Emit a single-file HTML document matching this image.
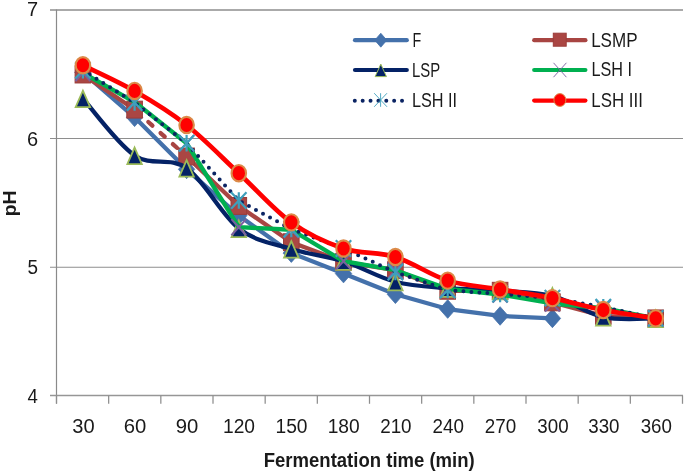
<!DOCTYPE html>
<html><head><meta charset="utf-8"><style>
html,body{margin:0;padding:0;background:#fff;width:685px;height:474px;overflow:hidden}
svg{display:block;will-change:transform}
text{font-family:"Liberation Sans",sans-serif}
</style></head><body>
<svg width="685" height="474" viewBox="0 0 685 474">
<line x1="50" y1="10.00" x2="683" y2="10.00" stroke="#8e8e8e" stroke-width="1.5"/>
<line x1="50" y1="138.50" x2="683" y2="138.50" stroke="#8e8e8e" stroke-width="1.15"/>
<line x1="50" y1="267.25" x2="683" y2="267.25" stroke="#8e8e8e" stroke-width="1.15"/>
<line x1="56.5" y1="9.50" x2="56.5" y2="403.50" stroke="#8a8a8a" stroke-width="1.2"/>
<line x1="50" y1="395.55" x2="683.00" y2="395.55" stroke="#969696" stroke-width="1.5"/>
<line x1="56.50" y1="395.50" x2="56.50" y2="403.80" stroke="#8e8e8e" stroke-width="1.25"/>
<line x1="108.67" y1="395.50" x2="108.67" y2="403.80" stroke="#8e8e8e" stroke-width="1.25"/>
<line x1="160.83" y1="395.50" x2="160.83" y2="403.80" stroke="#8e8e8e" stroke-width="1.25"/>
<line x1="213.00" y1="395.50" x2="213.00" y2="403.80" stroke="#8e8e8e" stroke-width="1.25"/>
<line x1="265.17" y1="395.50" x2="265.17" y2="403.80" stroke="#8e8e8e" stroke-width="1.25"/>
<line x1="317.33" y1="395.50" x2="317.33" y2="403.80" stroke="#8e8e8e" stroke-width="1.25"/>
<line x1="369.50" y1="395.50" x2="369.50" y2="403.80" stroke="#8e8e8e" stroke-width="1.25"/>
<line x1="421.67" y1="395.50" x2="421.67" y2="403.80" stroke="#8e8e8e" stroke-width="1.25"/>
<line x1="473.83" y1="395.50" x2="473.83" y2="403.80" stroke="#8e8e8e" stroke-width="1.25"/>
<line x1="526.00" y1="395.50" x2="526.00" y2="403.80" stroke="#8e8e8e" stroke-width="1.25"/>
<line x1="578.17" y1="395.50" x2="578.17" y2="403.80" stroke="#8e8e8e" stroke-width="1.25"/>
<line x1="630.33" y1="395.50" x2="630.33" y2="403.80" stroke="#8e8e8e" stroke-width="1.25"/>
<line x1="682.50" y1="395.50" x2="682.50" y2="403.80" stroke="#8e8e8e" stroke-width="1.25"/>
<path d="M82.90,72.32 L134.60,117.30 L186.60,169.34 L238.80,215.60 L291.30,253.12 L343.50,273.55 L395.40,294.24 L447.70,309.02 L500.10,315.96 L552.40,318.40" fill="none" stroke="#4471ab" stroke-width="4.3" stroke-linecap="round" stroke-linejoin="round"/>
<path d="M82.90,63.02 L91.10,72.32 L82.90,81.62 L74.70,72.32Z" fill="#4471ab" stroke="#4471ab" stroke-width="0.8"/>
<path d="M134.60,108.00 L142.80,117.30 L134.60,126.60 L126.40,117.30Z" fill="#4471ab" stroke="#4471ab" stroke-width="0.8"/>
<path d="M186.60,160.04 L194.80,169.34 L186.60,178.64 L178.40,169.34Z" fill="#4471ab" stroke="#4471ab" stroke-width="0.8"/>
<path d="M238.80,206.30 L247.00,215.60 L238.80,224.90 L230.60,215.60Z" fill="#4471ab" stroke="#4471ab" stroke-width="0.8"/>
<path d="M291.30,243.82 L299.50,253.12 L291.30,262.42 L283.10,253.12Z" fill="#4471ab" stroke="#4471ab" stroke-width="0.8"/>
<path d="M343.50,264.25 L351.70,273.55 L343.50,282.85 L335.30,273.55Z" fill="#4471ab" stroke="#4471ab" stroke-width="0.8"/>
<path d="M395.40,284.94 L403.60,294.24 L395.40,303.54 L387.20,294.24Z" fill="#4471ab" stroke="#4471ab" stroke-width="0.8"/>
<path d="M447.70,299.72 L455.90,309.02 L447.70,318.32 L439.50,309.02Z" fill="#4471ab" stroke="#4471ab" stroke-width="0.8"/>
<path d="M500.10,306.66 L508.30,315.96 L500.10,325.26 L491.90,315.96Z" fill="#4471ab" stroke="#4471ab" stroke-width="0.8"/>
<path d="M552.40,309.10 L560.60,318.40 L552.40,327.70 L544.20,318.40Z" fill="#4471ab" stroke="#4471ab" stroke-width="0.8"/>
<path d="M82.90,74.51 L134.60,109.59" fill="none" stroke="#a84542" stroke-width="4.3" stroke-linecap="round" stroke-linejoin="round"/>
<path d="M134.60,109.59 L186.60,156.49" fill="none" stroke="#a84542" stroke-width="4.3" stroke-linecap="round" stroke-linejoin="round" stroke-dasharray="5.5 11" stroke-dashoffset="-2"/>
<path d="M186.60,156.49 L238.80,205.96 L291.30,242.20 L343.50,261.86 L395.40,270.21 L447.70,290.77 L500.10,290.77 L552.40,302.34 L603.30,315.83 L655.70,318.40" fill="none" stroke="#a84542" stroke-width="4.3" stroke-linecap="round" stroke-linejoin="round"/>
<rect x="75.10" y="66.06" width="15.60" height="16.90" fill="#aa4643" stroke="#9c3c39" stroke-width="1"/>
<rect x="126.80" y="101.14" width="15.60" height="16.90" fill="#aa4643" stroke="#9c3c39" stroke-width="1"/>
<rect x="178.80" y="148.04" width="15.60" height="16.90" fill="#aa4643" stroke="#9c3c39" stroke-width="1"/>
<rect x="231.00" y="197.51" width="15.60" height="16.90" fill="#aa4643" stroke="#9c3c39" stroke-width="1"/>
<rect x="283.50" y="233.75" width="15.60" height="16.90" fill="#aa4643" stroke="#9c3c39" stroke-width="1"/>
<rect x="335.70" y="253.41" width="15.60" height="16.90" fill="#aa4643" stroke="#9c3c39" stroke-width="1"/>
<rect x="387.60" y="261.76" width="15.60" height="16.90" fill="#aa4643" stroke="#9c3c39" stroke-width="1"/>
<rect x="439.90" y="282.32" width="15.60" height="16.90" fill="#aa4643" stroke="#9c3c39" stroke-width="1"/>
<rect x="492.30" y="282.32" width="15.60" height="16.90" fill="#aa4643" stroke="#9c3c39" stroke-width="1"/>
<rect x="544.60" y="293.89" width="15.60" height="16.90" fill="#aa4643" stroke="#9c3c39" stroke-width="1"/>
<rect x="595.50" y="307.38" width="15.60" height="16.90" fill="#aa4643" stroke="#9c3c39" stroke-width="1"/>
<rect x="647.90" y="309.95" width="15.60" height="16.90" fill="#aa4643" stroke="#9c3c39" stroke-width="1"/>
<path d="M82.90,98.54 C91.52,108.02 117.32,143.88 134.60,155.46 C151.88,167.05 169.23,155.89 186.60,168.06 C203.97,180.22 221.35,214.96 238.80,228.45 C256.25,241.94 273.85,243.55 291.30,249.01 C308.75,254.47 326.15,255.76 343.50,261.22 C360.85,266.68 378.03,277.28 395.40,281.78 C412.77,286.28 430.25,286.70 447.70,288.20 C465.15,289.70 482.65,289.49 500.10,290.77 C517.55,292.06 535.20,291.52 552.40,295.91 C569.60,300.30 586.08,313.37 603.30,317.11 C620.52,320.86 646.97,318.19 655.70,318.40" fill="none" stroke="#042266" stroke-width="4.3" stroke-linecap="round" stroke-linejoin="round"/>
<path d="M82.90,90.66 L90.14,107.14 L75.66,107.14Z" fill="#042266" stroke="#9bbb59" stroke-width="1.8" stroke-linejoin="miter"/>
<path d="M134.60,147.58 L141.84,164.06 L127.36,164.06Z" fill="#042266" stroke="#9bbb59" stroke-width="1.8" stroke-linejoin="miter"/>
<path d="M186.60,160.18 L193.84,176.66 L179.36,176.66Z" fill="#042266" stroke="#9bbb59" stroke-width="1.8" stroke-linejoin="miter"/>
<path d="M238.80,220.57 L246.04,237.05 L231.56,237.05Z" fill="#042266" stroke="#9bbb59" stroke-width="1.8" stroke-linejoin="miter"/>
<path d="M291.30,241.13 L298.54,257.61 L284.06,257.61Z" fill="#042266" stroke="#9bbb59" stroke-width="1.8" stroke-linejoin="miter"/>
<path d="M343.50,253.34 L350.74,269.82 L336.26,269.82Z" fill="#042266" stroke="#9bbb59" stroke-width="1.8" stroke-linejoin="miter"/>
<path d="M395.40,273.90 L402.64,290.38 L388.16,290.38Z" fill="#042266" stroke="#9bbb59" stroke-width="1.8" stroke-linejoin="miter"/>
<path d="M447.70,280.32 L454.94,296.80 L440.46,296.80Z" fill="#042266" stroke="#9bbb59" stroke-width="1.8" stroke-linejoin="miter"/>
<path d="M500.10,282.89 L507.34,299.37 L492.86,299.37Z" fill="#042266" stroke="#9bbb59" stroke-width="1.8" stroke-linejoin="miter"/>
<path d="M552.40,288.03 L559.64,304.51 L545.16,304.51Z" fill="#042266" stroke="#9bbb59" stroke-width="1.8" stroke-linejoin="miter"/>
<path d="M603.30,309.23 L610.54,325.71 L596.06,325.71Z" fill="#042266" stroke="#9bbb59" stroke-width="1.8" stroke-linejoin="miter"/>
<path d="M655.70,310.52 L662.94,327.00 L648.46,327.00Z" fill="#042266" stroke="#9bbb59" stroke-width="1.8" stroke-linejoin="miter"/>
<path d="M82.90,72.97 L134.60,102.01 L186.60,143.25 L238.80,227.17 L291.30,229.73 L343.50,261.22 L395.40,270.21 L447.70,288.84 L500.10,294.50 L552.40,303.49 L603.30,308.12 L655.70,318.40" fill="none" stroke="#00b050" stroke-width="4.3" stroke-linecap="round" stroke-linejoin="round"/>
<path d="M75.50,64.87 L90.30,81.07 M90.30,64.87 L75.50,81.07" stroke="#7b5f9f" stroke-width="2.0" fill="none"/>
<path d="M127.20,93.91 L142.00,110.11 M142.00,93.91 L127.20,110.11" stroke="#7b5f9f" stroke-width="2.0" fill="none"/>
<path d="M179.20,135.15 L194.00,151.35 M194.00,135.15 L179.20,151.35" stroke="#7b5f9f" stroke-width="2.0" fill="none"/>
<path d="M231.40,219.07 L246.20,235.27 M246.20,219.07 L231.40,235.27" stroke="#7b5f9f" stroke-width="2.0" fill="none"/>
<path d="M283.90,221.63 L298.70,237.83 M298.70,221.63 L283.90,237.83" stroke="#7b5f9f" stroke-width="2.0" fill="none"/>
<path d="M336.10,253.12 L350.90,269.32 M350.90,253.12 L336.10,269.32" stroke="#7b5f9f" stroke-width="2.0" fill="none"/>
<path d="M388.00,262.11 L402.80,278.31 M402.80,262.11 L388.00,278.31" stroke="#7b5f9f" stroke-width="2.0" fill="none"/>
<path d="M440.30,280.74 L455.10,296.94 M455.10,280.74 L440.30,296.94" stroke="#7b5f9f" stroke-width="2.0" fill="none"/>
<path d="M492.70,286.40 L507.50,302.60 M507.50,286.40 L492.70,302.60" stroke="#7b5f9f" stroke-width="2.0" fill="none"/>
<path d="M545.00,295.39 L559.80,311.59 M559.80,295.39 L545.00,311.59" stroke="#7b5f9f" stroke-width="2.0" fill="none"/>
<path d="M595.90,300.02 L610.70,316.22 M610.70,300.02 L595.90,316.22" stroke="#7b5f9f" stroke-width="2.0" fill="none"/>
<path d="M648.30,310.30 L663.10,326.50 M663.10,310.30 L648.30,326.50" stroke="#7b5f9f" stroke-width="2.0" fill="none"/>
<path d="M82.90,70.39 L134.60,102.52 L186.60,143.25 L238.80,200.57 L291.30,229.09 L343.50,248.50 L395.40,272.14 L447.70,290.13 L500.10,293.99 L552.40,298.10 L603.30,307.09 L655.70,318.40" fill="none" stroke="#0b2463" stroke-width="4.0" stroke-linecap="round" stroke-linejoin="round" stroke-dasharray="0 8"/>
<path d="M75.20,62.19 L90.60,78.59 M90.60,62.19 L75.20,78.59 M82.90,62.19 L82.90,78.59" stroke="#3e9fbc" stroke-width="2.2" fill="none"/>
<path d="M126.90,94.32 L142.30,110.72 M142.30,94.32 L126.90,110.72 M134.60,94.32 L134.60,110.72" stroke="#3e9fbc" stroke-width="2.2" fill="none"/>
<path d="M178.90,135.05 L194.30,151.45 M194.30,135.05 L178.90,151.45 M186.60,135.05 L186.60,151.45" stroke="#3e9fbc" stroke-width="2.2" fill="none"/>
<path d="M231.10,192.37 L246.50,208.77 M246.50,192.37 L231.10,208.77 M238.80,192.37 L238.80,208.77" stroke="#3e9fbc" stroke-width="2.2" fill="none"/>
<path d="M283.60,220.89 L299.00,237.29 M299.00,220.89 L283.60,237.29 M291.30,220.89 L291.30,237.29" stroke="#3e9fbc" stroke-width="2.2" fill="none"/>
<path d="M335.80,240.30 L351.20,256.70 M351.20,240.30 L335.80,256.70 M343.50,240.30 L343.50,256.70" stroke="#3e9fbc" stroke-width="2.2" fill="none"/>
<path d="M387.70,263.94 L403.10,280.34 M403.10,263.94 L387.70,280.34 M395.40,263.94 L395.40,280.34" stroke="#3e9fbc" stroke-width="2.2" fill="none"/>
<path d="M440.00,281.93 L455.40,298.33 M455.40,281.93 L440.00,298.33 M447.70,281.93 L447.70,298.33" stroke="#3e9fbc" stroke-width="2.2" fill="none"/>
<path d="M492.40,285.79 L507.80,302.19 M507.80,285.79 L492.40,302.19 M500.10,285.79 L500.10,302.19" stroke="#3e9fbc" stroke-width="2.2" fill="none"/>
<path d="M544.70,289.90 L560.10,306.30 M560.10,289.90 L544.70,306.30 M552.40,289.90 L552.40,306.30" stroke="#3e9fbc" stroke-width="2.2" fill="none"/>
<path d="M595.60,298.89 L611.00,315.29 M611.00,298.89 L595.60,315.29 M603.30,298.89 L603.30,315.29" stroke="#3e9fbc" stroke-width="2.2" fill="none"/>
<path d="M648.00,310.20 L663.40,326.60 M663.40,310.20 L648.00,326.60 M655.70,310.20 L655.70,326.60" stroke="#3e9fbc" stroke-width="2.2" fill="none"/>
<path d="M82.90,65.25 C91.52,69.54 117.32,81.00 134.60,90.95 C151.88,100.91 169.23,111.30 186.60,125.01 C203.97,138.71 221.35,156.96 238.80,173.19 C256.25,189.43 273.85,209.86 291.30,222.41 C308.75,234.96 326.15,242.73 343.50,248.50 C360.85,254.26 378.03,251.62 395.40,256.98 C412.77,262.33 430.25,275.22 447.70,280.62 C465.15,286.02 482.65,286.45 500.10,289.36 C517.55,292.27 535.20,294.65 552.40,298.10 C569.60,301.55 586.08,306.66 603.30,310.05 C620.52,313.43 646.97,317.01 655.70,318.40" fill="none" stroke="#ff0000" stroke-width="4.7" stroke-linecap="round" stroke-linejoin="round"/>
<ellipse cx="82.90" cy="65.25" rx="7.25" ry="8.15" fill="#ff0000" stroke="#dc8a48" stroke-width="2.1"/>
<ellipse cx="134.60" cy="90.95" rx="7.25" ry="8.15" fill="#ff0000" stroke="#dc8a48" stroke-width="2.1"/>
<ellipse cx="186.60" cy="125.01" rx="7.25" ry="8.15" fill="#ff0000" stroke="#dc8a48" stroke-width="2.1"/>
<ellipse cx="238.80" cy="173.19" rx="7.25" ry="8.15" fill="#ff0000" stroke="#dc8a48" stroke-width="2.1"/>
<ellipse cx="291.30" cy="222.41" rx="7.25" ry="8.15" fill="#ff0000" stroke="#dc8a48" stroke-width="2.1"/>
<ellipse cx="343.50" cy="248.50" rx="7.25" ry="8.15" fill="#ff0000" stroke="#dc8a48" stroke-width="2.1"/>
<ellipse cx="395.40" cy="256.98" rx="7.25" ry="8.15" fill="#ff0000" stroke="#dc8a48" stroke-width="2.1"/>
<ellipse cx="447.70" cy="280.62" rx="7.25" ry="8.15" fill="#ff0000" stroke="#dc8a48" stroke-width="2.1"/>
<ellipse cx="500.10" cy="289.36" rx="7.25" ry="8.15" fill="#ff0000" stroke="#dc8a48" stroke-width="2.1"/>
<ellipse cx="552.40" cy="298.10" rx="7.25" ry="8.15" fill="#ff0000" stroke="#dc8a48" stroke-width="2.1"/>
<ellipse cx="603.30" cy="310.05" rx="7.25" ry="8.15" fill="#ff0000" stroke="#dc8a48" stroke-width="2.1"/>
<ellipse cx="655.70" cy="318.40" rx="7.25" ry="8.15" fill="#ff0000" stroke="#dc8a48" stroke-width="2.1"/>
<line x1="355.0" y1="40.2" x2="406.8" y2="40.2" stroke="#4471ab" stroke-width="4.2" stroke-linecap="round"/>
<path d="M380.80,33.25 L386.80,40.20 L380.80,47.15 L374.80,40.20Z" fill="#4471ab" stroke="#4471ab" stroke-width="0.8"/>
<line x1="534.2" y1="40.2" x2="585.4" y2="40.2" stroke="#a84542" stroke-width="4.2" stroke-linecap="round"/>
<rect x="553.30" y="33.20" width="12.90" height="13.00" fill="#aa4643" stroke="#9c3c39" stroke-width="1"/>
<line x1="355.0" y1="70.0" x2="406.8" y2="70.0" stroke="#042266" stroke-width="4.2" stroke-linecap="round"/>
<path d="M380.80,64.10 L386.45,76.60 L375.15,76.60Z" fill="#042266" stroke="#9bbb59" stroke-width="1.0" stroke-linejoin="miter"/>
<line x1="534.2" y1="70.0" x2="585.4" y2="70.0" stroke="#00b050" stroke-width="4.2" stroke-linecap="round"/>
<path d="M553.50,62.80 L566.40,77.20 M566.40,62.80 L553.50,77.20" stroke="#7b5f9f" stroke-width="0.9" fill="none"/>
<line x1="354.8" y1="100.8" x2="402.1" y2="100.8" stroke="#0b2463" stroke-width="4.0" stroke-linecap="round" stroke-dasharray="0 7.87"/>
<path d="M374.20,93.20 L387.00,106.80 M387.00,93.20 L374.20,106.80 M380.60,93.20 L380.60,106.80" stroke="#3e9fbc" stroke-width="0.9" fill="none"/>
<line x1="534.2" y1="100.6" x2="585.4" y2="100.6" stroke="#ff0000" stroke-width="4.2" stroke-linecap="round"/>
<ellipse cx="559.90" cy="100.00" rx="6.00" ry="6.40" fill="#ff0000" stroke="#dc8a48" stroke-width="1.0"/>
<text transform="translate(26.90,16.01) scale(0.9714,1)" font-size="20.59" fill="#1a1a1a">7</text>
<text transform="translate(26.90,145.59) scale(0.9660,1)" font-size="20.70" fill="#1a1a1a">6</text>
<text transform="translate(27.44,273.80) scale(0.9401,1)" font-size="20.14" fill="#1a1a1a">5</text>
<text transform="translate(27.53,403.01) scale(0.9048,1)" font-size="20.59" fill="#1a1a1a">4</text>
<text transform="translate(72.35,432.59) scale(0.9576,1)" font-size="20.99" fill="#1a1a1a">30</text>
<text transform="translate(123.84,432.59) scale(0.9670,1)" font-size="20.99" fill="#1a1a1a">60</text>
<text transform="translate(175.84,432.59) scale(0.9670,1)" font-size="20.99" fill="#1a1a1a">90</text>
<text transform="translate(222.96,432.59) scale(0.9161,1)" font-size="20.99" fill="#1a1a1a">120</text>
<text transform="translate(275.46,432.59) scale(0.9161,1)" font-size="20.99" fill="#1a1a1a">150</text>
<text transform="translate(327.66,432.59) scale(0.9161,1)" font-size="20.99" fill="#1a1a1a">180</text>
<text transform="translate(380.16,432.59) scale(0.8987,1)" font-size="20.99" fill="#1a1a1a">210</text>
<text transform="translate(432.46,432.59) scale(0.8987,1)" font-size="20.99" fill="#1a1a1a">240</text>
<text transform="translate(484.86,432.59) scale(0.8987,1)" font-size="20.99" fill="#1a1a1a">270</text>
<text transform="translate(537.35,432.59) scale(0.8931,1)" font-size="20.99" fill="#1a1a1a">300</text>
<text transform="translate(588.25,432.59) scale(0.8931,1)" font-size="20.99" fill="#1a1a1a">330</text>
<text transform="translate(640.65,432.59) scale(0.8931,1)" font-size="20.99" fill="#1a1a1a">360</text>
<text transform="translate(412.56,46.80) scale(0.6893,1)" font-size="20.72" fill="#1a1a1a">F</text>
<text transform="translate(412.01,76.59) scale(0.7141,1)" font-size="20.85" fill="#1a1a1a">LSP</text>
<text transform="translate(411.90,107.00) scale(0.7955,1)" font-size="20.42" fill="#1a1a1a">LSH II</text>
<text transform="translate(591.13,46.79) scale(0.8187,1)" font-size="20.85" fill="#1a1a1a">LSMP</text>
<text transform="translate(591.40,76.30) scale(0.7944,1)" font-size="20.42" fill="#1a1a1a">LSH I</text>
<text transform="translate(591.35,106.80) scale(0.8546,1)" font-size="19.72" fill="#1a1a1a">LSH III</text>
<text transform="translate(263.70,467.3) scale(0.9179,1)" font-size="20.20" font-weight="bold" fill="#1a1a1a">Fermentation time (min)</text>
<text transform="translate(15.6,216.26) rotate(-90) scale(1.0558,1)" font-size="18.39" font-weight="bold" fill="#1a1a1a">pH</text>
</svg>
</body></html>
